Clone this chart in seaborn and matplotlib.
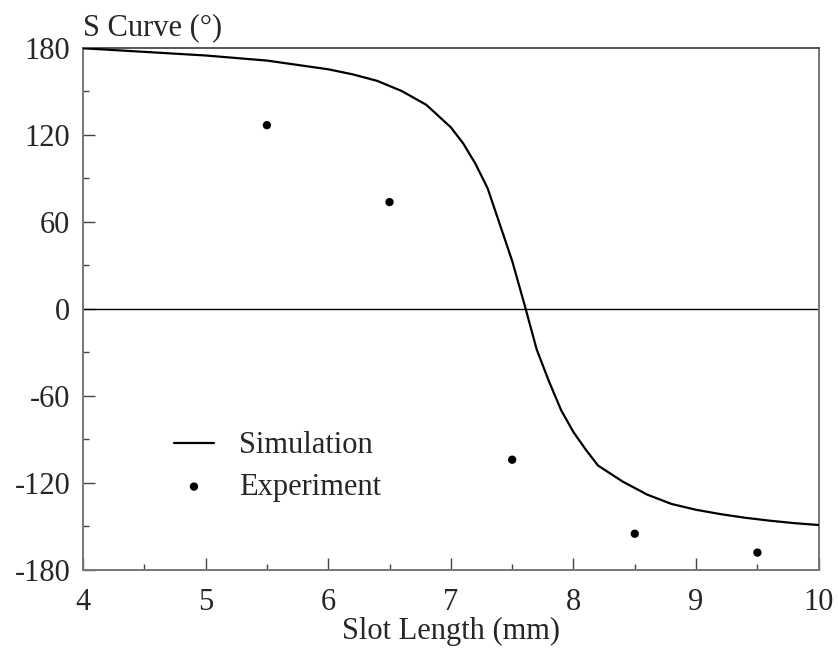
import matplotlib
matplotlib.use("Agg")
import matplotlib.pyplot as plt
from matplotlib.ticker import MultipleLocator
import seaborn as sns
import pandas as pd

sim_x = [4.0, 4.5, 5.0, 5.5, 6.0, 6.2, 6.4, 6.6, 6.8, 7.0, 7.1, 7.2, 7.3, 7.4, 7.5,
         7.6, 7.7, 7.8, 7.9, 8.0, 8.1, 8.2, 8.4, 8.6, 8.8, 9.0, 9.2, 9.4, 9.6, 9.8, 10.0]
sim_y = [179.5, 177, 174.5, 171, 165, 161.5, 157, 150, 140.5, 125, 114, 100, 83, 58, 33,
         3, -28, -50, -70, -85, -97, -108, -119, -128, -134.5, -138.5, -141.5, -144, -146, -147.7, -149]
exp_x = [5.5, 6.5, 7.5, 8.5, 9.5]
exp_y = [126.5, 73.5, -104, -155, -168]

sim = pd.DataFrame({"x": sim_x, "y": sim_y})
exp = pd.DataFrame({"x": exp_x, "y": exp_y})

sns.set_style("white")
plt.rcParams["font.family"] = ["Liberation Serif", "DejaVu Serif"]
plt.rcParams["axes.unicode_minus"] = False

FS = 22

fig = plt.figure(figsize=(8.38, 6.49), dpi=100)
ax = fig.add_axes([0.099, 0.1217, 0.878, 0.8051])

ax.axhline(0, color="black", lw=1.0, zorder=1)
sns.lineplot(data=sim, x="x", y="y", ax=ax, color="black", lw=1.6, label="Simulation", zorder=3)
sns.scatterplot(data=exp, x="x", y="y", ax=ax, color="black", s=36, edgecolor="none",
                label="Experiment", zorder=4)

ax.set_xlim(4, 10)
ax.set_ylim(-180, 180)
ax.xaxis.set_major_locator(MultipleLocator(1))
ax.xaxis.set_minor_locator(MultipleLocator(0.5))
ax.yaxis.set_major_locator(MultipleLocator(60))
ax.yaxis.set_minor_locator(MultipleLocator(30))
ax.tick_params(axis="both", which="major", direction="in", length=8.5, width=1.0,
               color="#444444", labelsize=FS, top=False, right=False,
               bottom=True, left=True)
ax.tick_params(axis="x", which="major", pad=13)
ax.tick_params(axis="y", which="major", pad=9)
ax.tick_params(axis="both", which="minor", direction="in", length=4.5, width=1.0,
               color="#444444", top=False, right=False, bottom=True, left=True)

for side, sp in ax.spines.items():
    sp.set_visible(True)
    sp.set_color("#777777")
    sp.set_linewidth(1.4)
ax.spines["top"].set_color("#555555")

ax.set_xlabel("Slot Length (mm)", fontsize=FS, labelpad=0)
ax.set_ylabel("")
ax.text(0.0, 1.01, "S Curve (°)", transform=ax.transAxes, ha="left", va="bottom", fontsize=FS)

leg = ax.legend(loc="upper left", bbox_to_anchor=(0.0865, 0.318), frameon=False, fontsize=FS,
                handlelength=1.3, handletextpad=0.82, labelspacing=0.4, borderpad=0.4)

fig.savefig("out.png", dpi=100, facecolor="white")
